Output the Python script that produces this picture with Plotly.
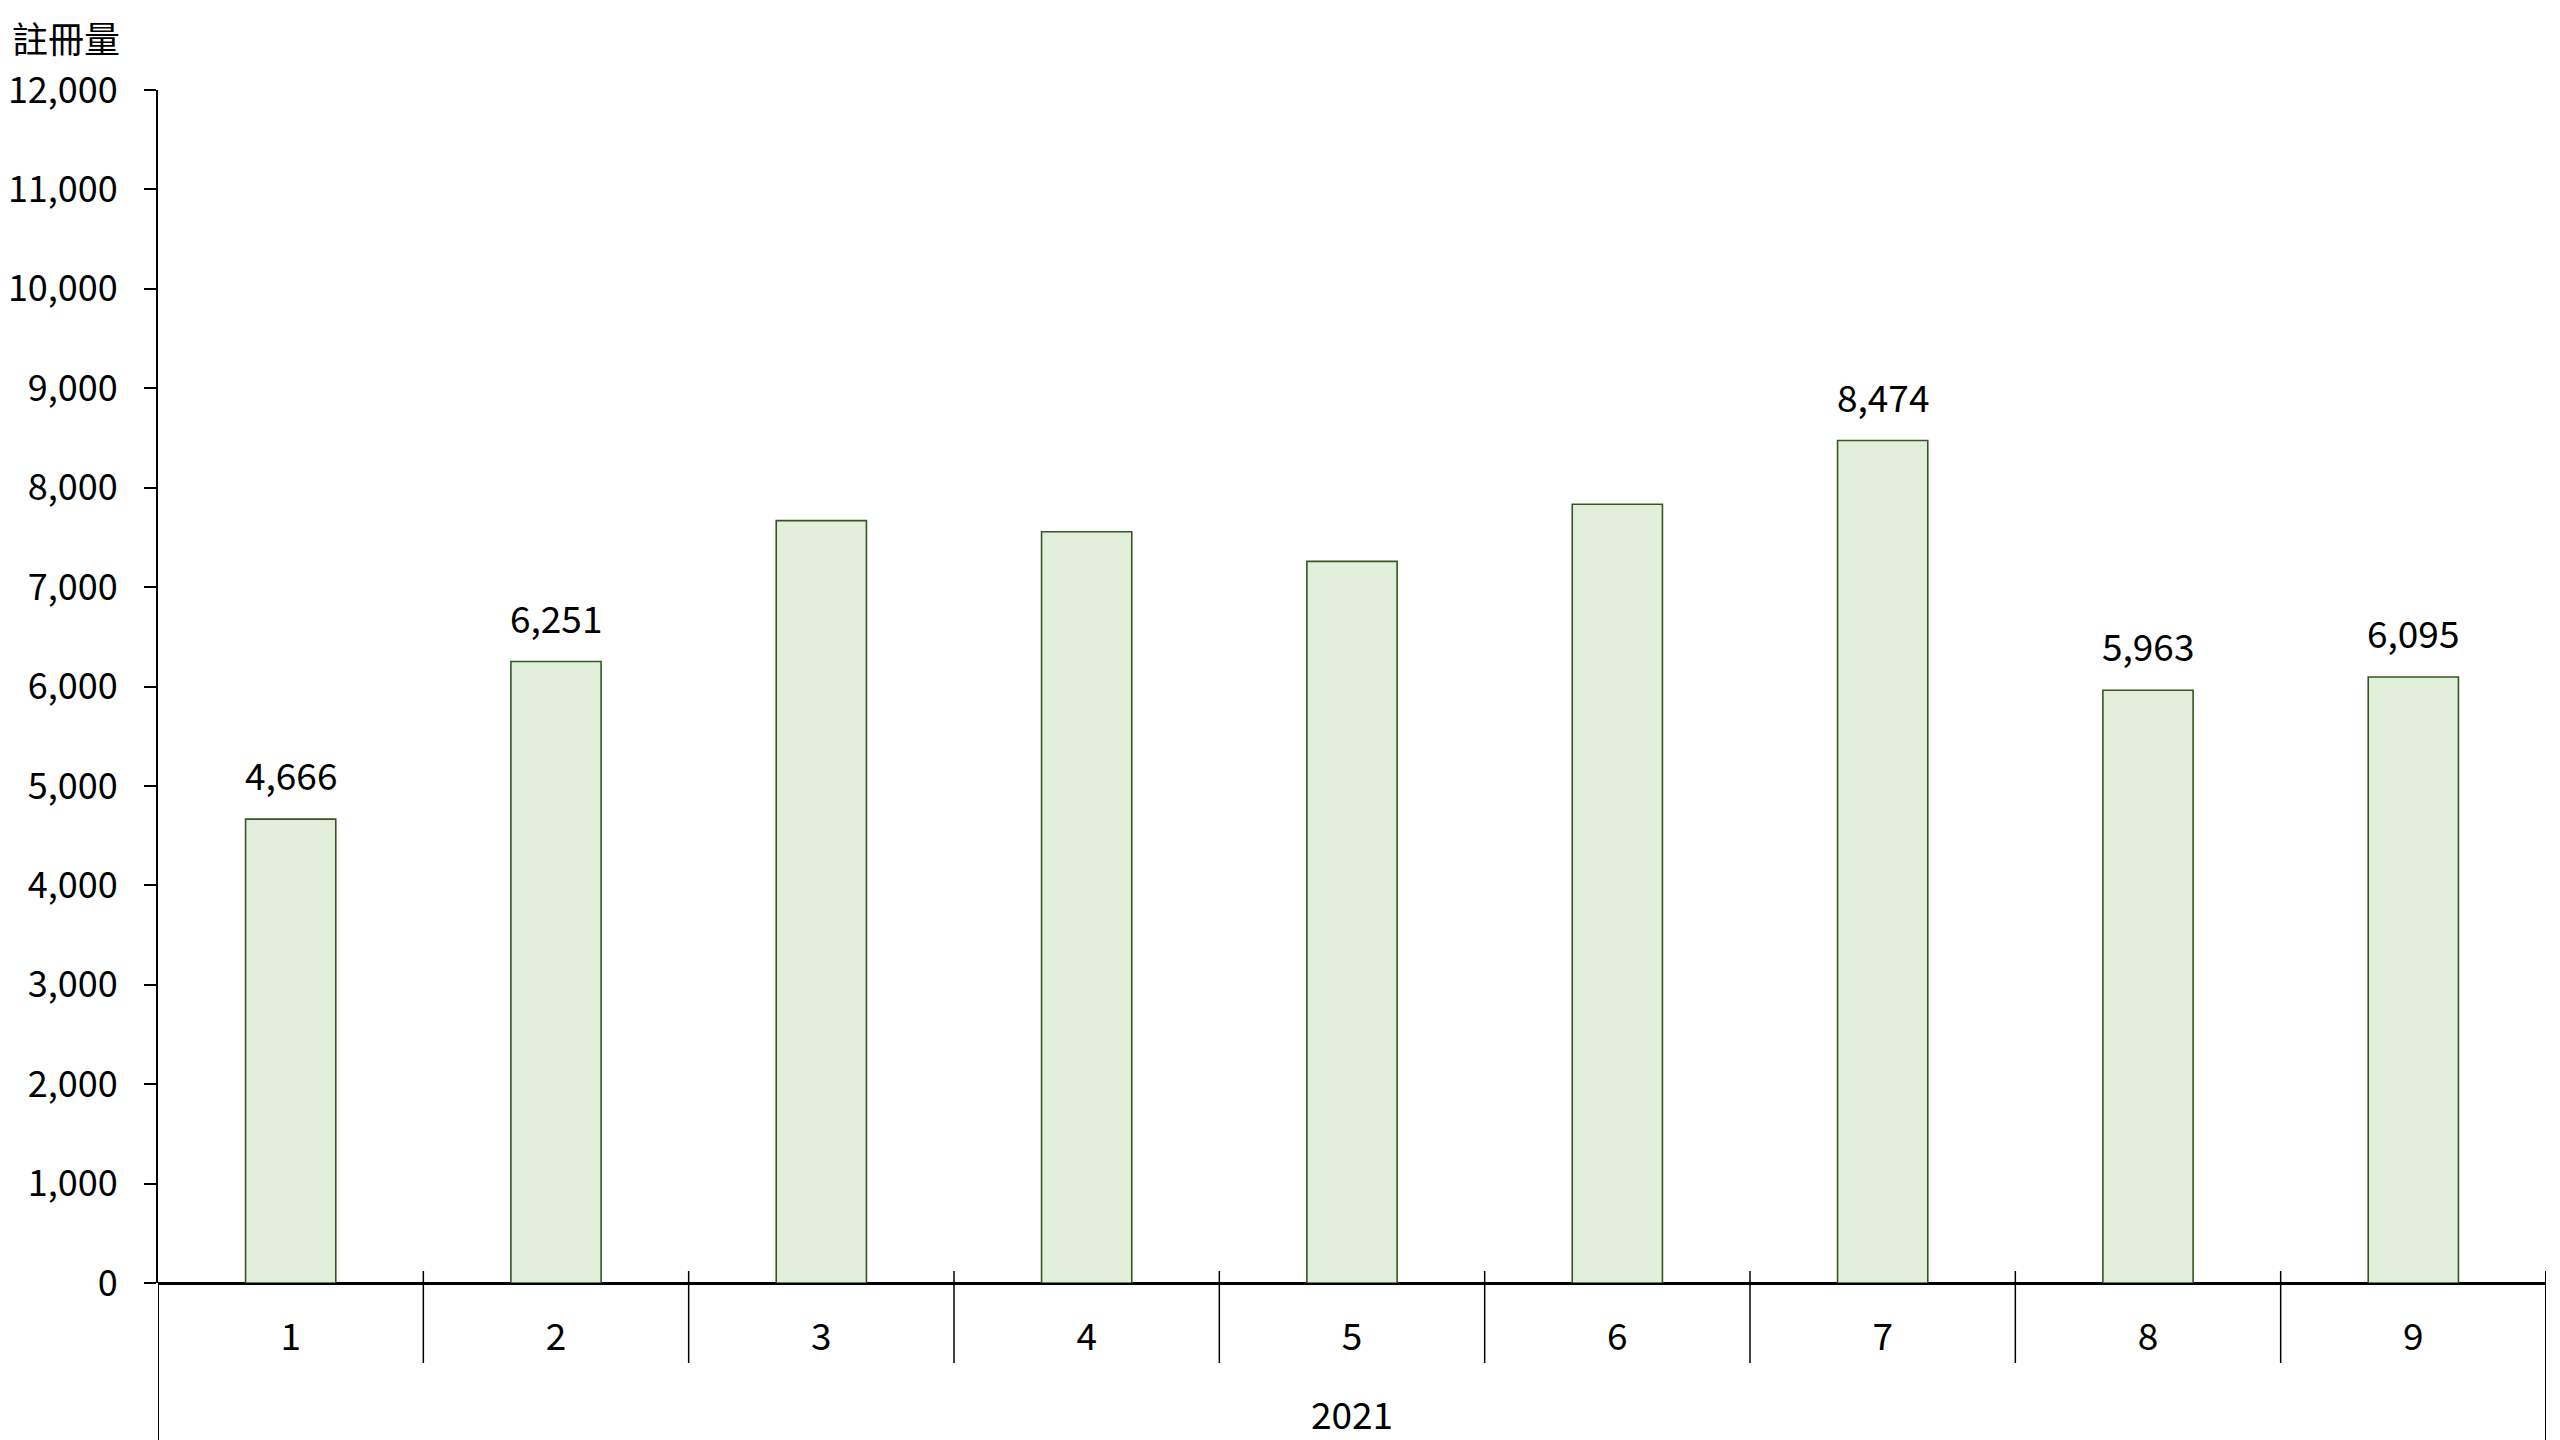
import plotly.graph_objects as go

months = ["1", "2", "3", "4", "5", "6", "7", "8", "9"]
values = [4666, 6251, 7668, 7557, 7259, 7833, 8474, 5963, 6095]
labeled = [True, True, False, False, False, False, True, True, True]
year = "2021"
y_title = "註冊量"

FONT = "Noto Sans CJK TC"
W, H = 2560, 1440
# page body has an 8px margin, so the figure is drawn offset by 8px
ML, MR, MT, MB = 150, 22, 82, 165
plot_h = H - MT - MB

xs = list(range(len(months)))

fig = go.Figure()
fig.add_trace(go.Bar(
    x=xs, y=values, width=0.34,
    marker=dict(color="#E2EFDA", line=dict(color="#375623", width=1.6)),
    hoverinfo="skip",
))

# data labels
for i, v in enumerate(values):
    if labeled[i]:
        fig.add_annotation(x=i, y=v, text=f"{v:,}", showarrow=False,
                           yanchor="middle", yshift=45,
                           font=dict(family=FONT, size=37, color="#000"))

def py(px_below_axis):
    return -px_below_axis / plot_h

# separators between months
for i in range(1, len(months)):
    fig.add_shape(type="line", xref="x", yref="paper", x0=i - 0.5, x1=i - 0.5,
                  y0=py(-12), y1=py(80), line=dict(color="#000", width=1.5))
# right outer line
fig.add_shape(type="line", xref="x", yref="paper", x0=len(months) - 0.5, x1=len(months) - 0.5,
              y0=py(-12), y1=py(170), line=dict(color="#000", width=2))
# left outer line extension
fig.add_shape(type="line", xref="x", yref="paper", x0=-0.5, x1=-0.5,
              y0=0, y1=py(170), line=dict(color="#000", width=2))

fig.add_annotation(x=0.5, xref="paper", y=py(130), yref="paper", text=year,
                   showarrow=False, yanchor="middle",
                   font=dict(family=FONT, size=37, color="#000"))
fig.add_annotation(x=0, xref="paper", xshift=-148, xanchor="left",
                   y=1, yref="paper", yshift=53, yanchor="middle",
                   text=y_title, showarrow=False,
                   font=dict(family=FONT, size=36, color="#000"))

fig.update_layout(
    width=W, height=H,
    margin=dict(l=ML, r=MR, t=MT, b=MB, pad=0, autoexpand=False),
    paper_bgcolor="white", plot_bgcolor="white",
    showlegend=False,
    font=dict(family=FONT, size=37, color="#000"),
    xaxis=dict(range=[-0.5, len(months) - 0.5], tickmode="array", tickvals=xs,
               ticktext=months, showgrid=False, zeroline=False, automargin=False,
               showline=False, ticks="", ticklabelstandoff=29,
               tickfont=dict(family=FONT, size=37, color="#000")),
    yaxis=dict(range=[0, 12000], dtick=1000, tickformat=",", showgrid=False,
               automargin=False,
               zeroline=True, zerolinecolor="#000", zerolinewidth=2.5,
               showline=True, linecolor="#000", linewidth=2,
               ticks="outside", ticklen=12, tickwidth=2, tickcolor="#000",
               ticklabelstandoff=19,
               tickfont=dict(family=FONT, size=36, color="#000")),
)

fig.write_html("out.html")
